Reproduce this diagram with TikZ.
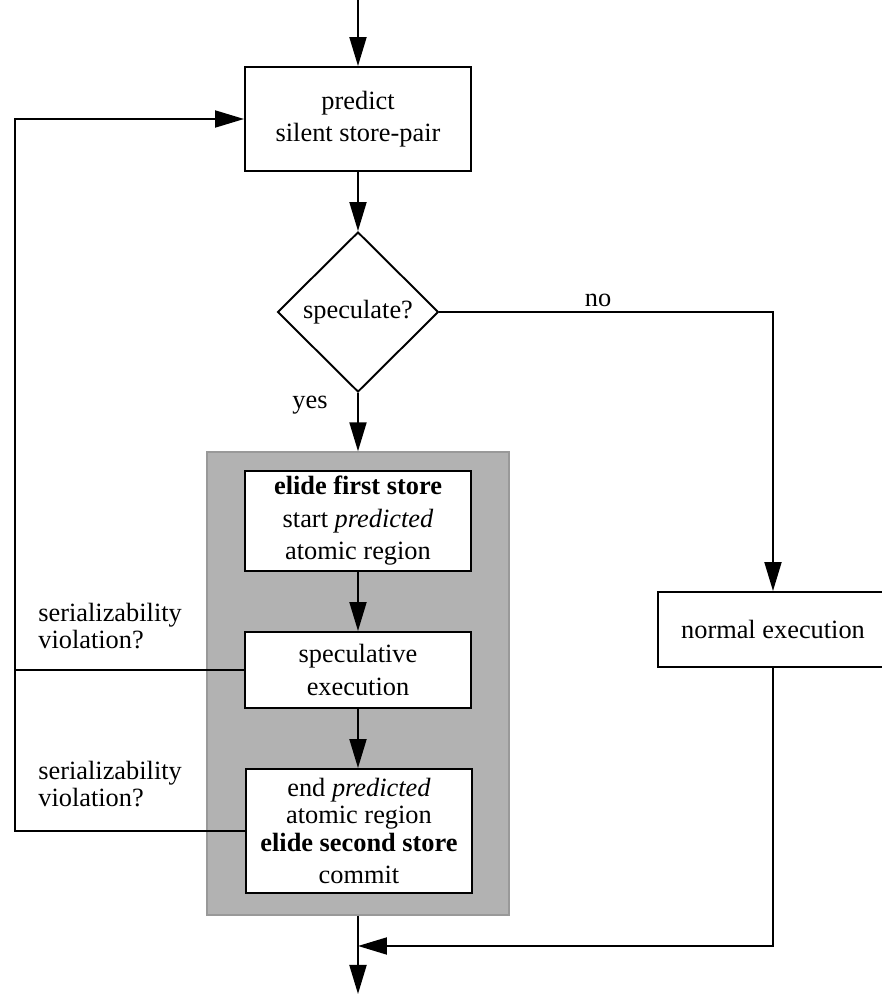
\documentclass[tikz,border=0pt]{standalone}
\usepackage{fontspec}
\setmainfont{Liberation Serif}
\usetikzlibrary{shapes.geometric,arrows.meta}

\begin{document}
\begin{tikzpicture}[scale=0.2, >={Triangle[length=5.8mm,width=3.4mm]}]
\tikzstyle{every node}+=[inner sep=0pt, font=\fontsize{15}{18.5}\selectfont]
\tikzstyle{stepbox}=[draw=black, line width=1.1pt, fill=white, align=center, minimum width=4.52cm]
\tikzstyle{conn}=[black, line width=1.1pt]
\tikzstyle{sidenote}=[align=left, anchor=west, font=\fontsize{15}{15.5}\selectfont]
\useasboundingbox (0,0) rectangle (88.2,-99.4);
\node [draw=black!40, fill=black!30, line width=0.8pt, minimum width=6.04cm, minimum height=9.26cm] (shade) at (35.8,-68.35) {};
\node [stepbox, minimum height=2.08cm] (predict) at (35.8,-11.9) {predict\\silent store-pair};
\node [draw=black, line width=1.1pt, diamond, aspect=1, minimum width=3.22cm, minimum height=3.2cm] (spec) at (35.8,-31.2) {speculate?};
\node [stepbox, minimum height=2.0cm] (elide) at (35.8,-52.1) {\textbf{elide first store}\\start \textit{predicted}\\atomic region};
\node [stepbox, minimum height=1.52cm] (specexec) at (35.8,-67.0) {speculative\\execution};
\node [stepbox, minimum height=2.48cm] (endreg) at (35.9,-83.1) {end \textit{predicted}\\[-3pt]atomic region\\[-3pt]\textbf{elide second store}\\commit};
\node [stepbox, minimum width=4.6cm, minimum height=1.5cm] (normal) at (77.3,-62.95) {normal execution};
\draw (59.8,-30.0) node (no) {no};
\draw (31.0,-40.5) node (yes) {yes};
\node [sidenote] (viol1) at (3.8,-62.6) {serializability\\violation?};
\node [sidenote] (viol2) at (3.8,-78.4) {serializability\\violation?};
\coordinate (top) at (35.8,0);
\coordinate (loopx) at (1.5,0);
\coordinate (merge) at (35.8,-94.6);
\coordinate (bottom) at (35.8,-99.4);
\draw [conn,->] (top) -- (predict);
\draw [conn,->] (predict) -- (spec);
\draw [conn,->] (spec) -- (shade);
\draw [conn,->] (spec.east) -| (normal.north);
\draw [conn,->] (elide) -- (specexec);
\draw [conn,->] (specexec) -- (endreg.north -| specexec);
\draw [conn] (specexec.west) -- (specexec.west -| loopx);
\draw [conn,->] (endreg.west) -- (endreg.west -| loopx) |- (predict.west);
\draw [conn,->] (normal.south) |- (merge);
\draw [conn,->] (shade.south) -- (bottom);
\end{tikzpicture}
\end{document}
